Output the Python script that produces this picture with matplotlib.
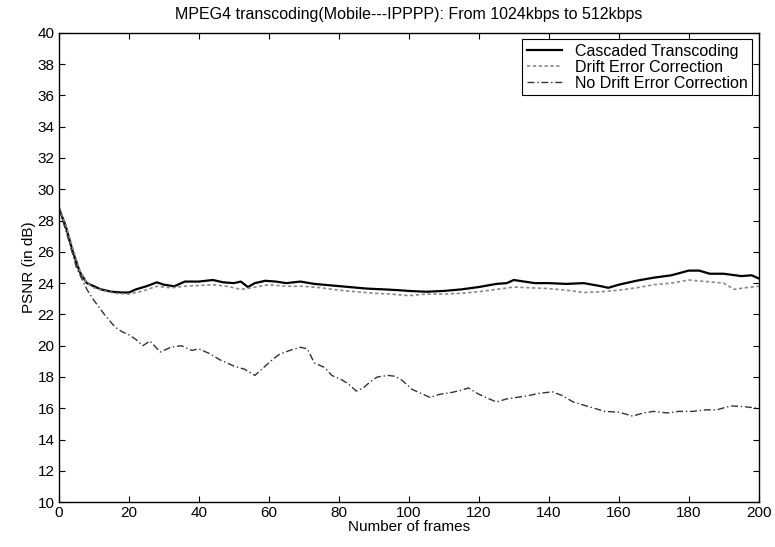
import matplotlib
matplotlib.use("Agg")
import matplotlib.pyplot as plt

plt.rcParams["font.family"] = ["Liberation Sans", "DejaVu Sans"]

# ---- data ----
casc_x = [0, 2, 4, 6, 8, 10, 12, 15, 18, 20, 22, 25, 28, 30, 33, 36, 40, 44, 47, 50,
          52, 54, 56, 59, 62, 65, 69, 73, 78, 83, 88, 93, 97, 100, 105, 110, 115, 120,
          125, 128, 130, 133, 136, 140, 145, 150, 155, 157, 160, 165, 170, 175, 180,
          183, 186, 190, 195, 198, 200]
casc_y = [28.8, 27.6, 26.0, 24.7, 24.0, 23.8, 23.6, 23.45, 23.4, 23.4, 23.6, 23.8, 24.05, 23.9,
          23.8, 24.1, 24.1, 24.2, 24.05, 24.0, 24.1, 23.75, 24.0, 24.15, 24.1, 24.0, 24.1,
          23.95, 23.85, 23.75, 23.65, 23.6, 23.55, 23.5, 23.45, 23.5, 23.6, 23.75, 23.95,
          24.0, 24.2, 24.1, 24.0, 24.0, 23.95, 24.0, 23.8, 23.7, 23.9, 24.15, 24.35, 24.5,
          24.8, 24.8, 24.6, 24.6, 24.45, 24.5, 24.3]

drift_x = [0, 2, 4, 6, 8, 10, 13, 16, 20, 24, 28, 32, 36, 40, 44, 48, 52, 55, 60, 65,
           70, 75, 80, 85, 90, 95, 100, 105, 110, 115, 120, 125, 130, 135, 140, 145, 150,
           155, 160, 165, 170, 175, 180, 185, 190, 193, 196, 200]
drift_y = [28.8, 27.7, 26.2, 24.8, 24.0, 23.7, 23.5, 23.35, 23.3, 23.5, 23.8, 23.7, 23.8,
           23.85, 23.9, 23.8, 23.6, 23.7, 23.9, 23.8, 23.8, 23.7, 23.55, 23.45, 23.35, 23.3,
           23.2, 23.3, 23.3, 23.35, 23.45, 23.6, 23.75, 23.7, 23.65, 23.55, 23.4, 23.45,
           23.55, 23.7, 23.9, 24.0, 24.2, 24.1, 24.0, 23.6, 23.7, 23.8]

nodrift_x = [0, 3, 5, 8, 10, 13, 16, 18, 20, 22, 24, 26, 29, 32, 35, 38, 40, 43, 46, 50,
             53, 56, 59, 61, 63, 66, 69, 71, 73, 76, 78, 81, 83, 85, 87, 89, 91, 94, 96,
             98, 101, 103, 106, 109, 112, 115, 117, 120, 123, 125, 128, 131, 134, 137,
             141, 144, 147, 150, 153, 156, 160, 164, 167, 170, 174, 177, 181, 185, 188,
             192, 196, 200]
nodrift_y = [28.8, 26.6, 25.0, 23.6, 22.9, 22.0, 21.2, 20.9, 20.7, 20.4, 20.0, 20.3, 19.6,
             19.9, 20.0, 19.7, 19.8, 19.5, 19.1, 18.7, 18.5, 18.1, 18.7, 19.1, 19.45, 19.7,
             19.9, 19.8, 18.9, 18.6, 18.1, 17.8, 17.5, 17.1, 17.3, 17.7, 18.0, 18.1, 18.05,
             17.8, 17.2, 17.0, 16.7, 16.9, 17.0, 17.15, 17.3, 16.9, 16.6, 16.4, 16.6, 16.7,
             16.8, 16.95, 17.05, 16.8, 16.4, 16.2, 16.0, 15.8, 15.75, 15.5, 15.7, 15.8,
             15.7, 15.8, 15.8, 15.9, 15.9, 16.15, 16.1, 16.0]

x_ticks = [0, 20, 40, 60, 80, 100, 120, 140, 160, 180, 200]
y_ticks = [10, 12, 14, 16, 18, 20, 22, 24, 26, 28, 30, 32, 34, 36, 38, 40]

fig = plt.figure(figsize=(7.75, 5.47), dpi=100)
ax = fig.add_axes([0.076, 0.082, 0.903, 0.858])

ax.plot(casc_x, casc_y, color="black", lw=1.6, ls="-", label="Cascaded Transcoding")
ax.plot(drift_x, drift_y, color="#8a8a8a", lw=1.2, ls=(0, (2, 1.5)), label="Drift Error Correction")
ax.plot(nodrift_x, nodrift_y, color="#333333", lw=1.0, ls=(0, (5, 2, 1, 2)), label="No Drift Error Correction")

ax.set_xlim(0, 200)
ax.set_ylim(10, 40)
ax.set_xticks(x_ticks)
ax.set_yticks(y_ticks)
ax.tick_params(direction="in", top=True, right=True, labelsize=11, length=4, width=0.8, pad=3)
for s in ax.spines.values():
    s.set_linewidth(1.0)

ax.set_xlabel("Number of frames", fontsize=11, labelpad=0)
ax.set_ylabel("PSNR (in dB)", fontsize=11, labelpad=1)
ax.set_title("MPEG4 transcoding(Mobile---IPPPP): From 1024kbps to 512kbps", fontsize=11.5, pad=10)

leg = ax.legend(loc="upper right", fontsize=11.5, fancybox=False, framealpha=1,
                edgecolor="black", borderaxespad=0.4, handlelength=2.2,
                labelspacing=0.05, borderpad=0.3, handletextpad=0.8)
leg.get_frame().set_linewidth(0.8)

fig.savefig("out.png", dpi=100, facecolor="white")
